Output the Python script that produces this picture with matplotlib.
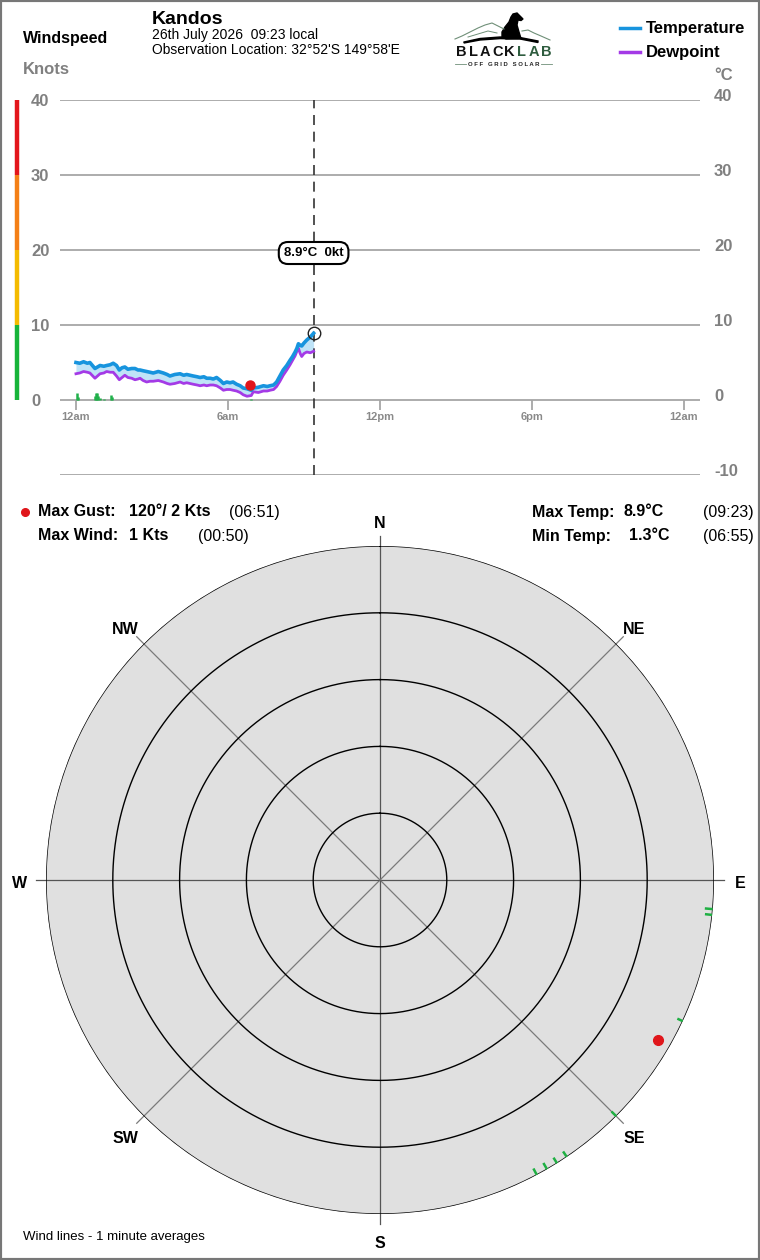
import numpy as np
import matplotlib.pyplot as plt
import matplotlib.transforms as mtransforms
from matplotlib.lines import Line2D
from matplotlib.patches import Rectangle, Polygon

plt.rcParams['font.family'] = ['Liberation Sans', 'DejaVu Sans']

# Temperature / dewpoint readings (hours since midnight)
obs_hours = [0.00, 0.15, 0.30, 0.45, 0.55, 0.75, 0.85, 0.95, 1.10, 1.21, 1.35, 1.47, 1.60,
             1.71, 1.82, 1.93, 2.05, 2.20, 2.33, 2.45, 2.53, 2.65, 2.79, 2.92, 3.05, 3.25,
             3.45, 3.60, 3.71, 3.90, 4.11, 4.25, 4.37, 4.50, 4.63, 4.78, 4.90, 5.05, 5.16,
             5.30, 5.42, 5.55, 5.70, 5.82, 5.95, 6.08, 6.20, 6.34, 6.48, 6.60, 6.75, 6.92,
             7.00, 7.20, 7.40, 7.55, 7.66, 7.80, 7.92, 8.05, 8.18, 8.32, 8.45, 8.55, 8.65,
             8.72, 8.78, 8.85, 8.91, 9.00, 9.11, 9.25, 9.38]
temp_c = [5.0, 4.9, 5.1, 4.9, 5.0, 4.2, 4.4, 4.6, 4.5, 4.6, 4.7, 4.9, 4.6,
          4.0, 4.3, 4.4, 4.1, 4.2, 4.2, 4.0, 4.0, 3.9, 3.8, 3.7, 3.6, 3.8,
          3.6, 3.4, 3.2, 3.4, 3.5, 3.3, 3.4, 3.3, 3.2, 3.1, 3.0, 3.1, 2.9,
          2.9, 2.8, 3.0, 2.6, 2.2, 2.4, 2.3, 2.4, 2.1, 1.9, 1.6, 1.5, 1.3,
          1.6, 1.7, 1.9, 1.8, 1.9, 2.0, 2.4, 3.2, 4.0, 4.6, 5.3, 5.8, 6.4,
          6.9, 7.5, 7.3, 7.2, 7.6, 8.0, 8.4, 8.9]
dewpoint_c = [3.5, 3.6, 3.8, 3.7, 3.6, 2.9, 3.2, 3.5, 3.6, 3.8, 3.7, 3.7, 3.2,
              2.7, 3.0, 3.3, 3.0, 2.9, 2.7, 2.8, 2.9, 2.6, 2.4, 2.5, 2.5, 2.6,
              2.4, 2.2, 2.1, 2.2, 2.4, 2.2, 2.3, 2.2, 2.1, 2.0, 1.9, 2.0, 1.9,
              2.0, 2.0, 1.9, 1.6, 1.3, 1.4, 1.4, 1.3, 1.2, 1.0, 0.7, 0.5, 0.6,
              1.1, 1.0, 1.2, 1.2, 1.3, 1.4, 1.8, 2.5, 3.3, 4.0, 4.7, 5.3, 5.9,
              6.5, 6.9, 6.2, 5.8, 6.2, 6.4, 6.3, 6.5]

# 1 minute wind averages (knots)
wind_hours = [0.03, 0.07, 0.75, 0.80, 0.83, 0.87, 0.95, 1.10, 1.38, 1.42, 6.90]
wind_kts = [0.9, 0.4, 0.6, 0.9, 1.0, 0.5, 0.3, 0.2, 0.7, 0.4, 0.2]

gust_hour = 6.85
gust_kts = 2
gust_dir = 120

now_hour = 9.38
now_temp = 8.9
now_wind = 0

x_ticks = [0, 6, 12, 18, 24]
x_labels = ['12am', '6am', '12pm', '6pm', '12am']
temp_ticks = [-10, 0, 10, 20, 30, 40]
wind_ticks = [0, 10, 20, 30, 40]
band_edges = [0, 10, 20, 30, 40]
band_colors = ['#17b43a', '#f4bb00', '#f47f16', '#e3161b']

# Wind rose
compass = ['N', 'NE', 'E', 'SE', 'S', 'SW', 'W', 'NW']
compass_deg = [0, 45, 90, 135, 180, 225, 270, 315]
ring_kts = [10, 20, 30, 40]
rose_max = 50
rose_dirs = [95, 96, 115, 135, 146, 148, 150, 152]
rose_kts = [1.0, 0.9, 0.7, 0.8, 0.8, 0.8, 0.9, 0.9]

W, H = 760, 1260
fig = plt.figure(figsize=(W / 100, H / 100), dpi=100)


def fx(p):
    return p / W


def fy(p):
    return 1 - p / H


# ---- top chart ----
ax = fig.add_axes([fx(60), fy(475), (700 - 60) / W, (475 - 100) / H])
ax.spines['bottom'].set_position(('data', 0))
ax.set_xlim(-0.63, 24.63)
ax.set_ylim(-10, 40)
for v in temp_ticks:
    ax.axhline(v, color='#a6a6a6', lw=1.3, zorder=1)

ax.fill_between(obs_hours, dewpoint_c, temp_c, color='#bfe3f7', lw=0, zorder=2)
ax.plot(obs_hours, dewpoint_c, color='#a43ae6', lw=2, zorder=3)
ax.plot(obs_hours, temp_c, color='#1794de', lw=2.6, zorder=4)
ax.vlines(wind_hours, 0, wind_kts, color='#20b04a', lw=1.8, zorder=3)
ax.plot(gust_hour, gust_kts, 'o', color='#e0161b', ms=6.5, zorder=5)
ax.axvline(now_hour, color='#333333', lw=1.2, ls=(0, (6, 4)), zorder=2)
ax.plot(now_hour, now_temp, 'o', mfc='none', mec='#222222', ms=9, mew=1, zorder=6)
ax.text(now_hour, 19.6, f'{now_temp}°C  {now_wind}kt', ha='center', va='center',
        fontsize=9.5, weight='bold', zorder=7,
        bbox=dict(boxstyle='round,pad=0.38,rounding_size=0.7', fc='white', ec='black', lw=1.5))

ax.set_xticks(x_ticks)
ax.set_xticklabels(x_labels, fontsize=8, weight='bold', color='#8a8a8a')
ax.tick_params(axis='x', length=7, color='#a6a6a6', width=1.3, pad=2)
for s in ax.spines.values():
    s.set_visible(False)
ax.set_yticks([])
ax.patch.set_alpha(0)

trans = mtransforms.blended_transform_factory(ax.transAxes, ax.transData)
for v in wind_ticks:
    ax.text((31 - 60) / 640, v - 0.2, str(v), transform=trans, ha='left', va='center',
            fontsize=12, weight='bold', color='#808080')
for v in temp_ticks:
    ax.text((714 - 60) / 640, v + 0.5, str(v), transform=trans, ha='left', va='center',
            fontsize=12, weight='bold', color='#808080')
ax.text((714 - 60) / 640, 43.2, '°C', transform=trans, ha='left', va='center',
        fontsize=12, weight='bold', color='#808080')
for i, c in enumerate(band_colors):
    ax.plot([(17 - 60) / 640] * 2, [band_edges[i], band_edges[i + 1]], transform=trans,
            color=c, lw=3.2, clip_on=False, solid_capstyle='butt')

# header
fig.text(fx(23), fy(39), 'Windspeed', fontsize=11.5, weight='bold', va='center')
fig.text(fx(23), fy(70), 'Knots', fontsize=12, weight='bold', color='#808080', va='center')
fig.text(fx(152), fy(19), 'Kandos', fontsize=14, weight='bold', va='center')
fig.text(fx(152), fy(35), '26th July 2026  09:23 local', fontsize=10, va='center')
fig.text(fx(152), fy(50), "Observation Location: 32°52'S 149°58'E", fontsize=10, va='center')

# legend
for yy, col, lab in [(28, '#1794de', 'Temperature'), (52, '#a43ae6', 'Dewpoint')]:
    fig.add_artist(Line2D([fx(620), fx(640)], [fy(yy), fy(yy)], color=col, lw=2.5))
    fig.text(fx(646), fy(yy + 1), lab, fontsize=12, weight='bold', va='center')

# logo
lax = fig.add_axes([fx(450), fy(72), 110 / W, 62 / H])
lax.set_xlim(450, 560)
lax.set_ylim(72, 10)
lax.axis('off')
lax.plot([455, 462, 470, 478, 485, 492, 498, 504], [39, 36, 32, 28, 25, 23, 26, 29],
         color='#6f8f78', lw=0.8)
lax.plot([522, 528, 534, 541, 550], [31, 30, 33, 36, 40], color='#6f8f78', lw=0.8)
lax.plot([468, 478, 488, 497], [37, 34, 31, 33], color='#6f8f78', lw=0.7)
lax.add_patch(Polygon([(464, 42), (480, 38.5), (500, 37), (520, 37.5), (538, 41), (538, 42.5),
                       (520, 39), (500, 38.6), (480, 40), (464, 43)], closed=True, color='black'))
lax.add_patch(Polygon([(506, 39), (502, 37), (502, 32), (505, 27), (509, 22), (511, 17),
                       (513, 14), (517, 13), (520, 16), (523, 19), (521, 20.5), (518, 20),
                       (517, 25), (519, 32), (521, 38.5)], closed=True, color='black'))
for i, ch in enumerate('BLACKLAB'):
    lax.text(461 + i * 12.2, 52.5, ch, ha='center', va='center', fontsize=10.5, weight='bold',
             color='#111111' if i < 5 else '#2e5c3e')
lax.text(503.5, 64, 'O F F   G R I D   S O L A R', ha='center', va='center', fontsize=4.3,
         weight='bold', color='#222222')
lax.plot([455, 466], [64, 64], color='#6f8f78', lw=0.6)
lax.plot([541, 552], [64, 64], color='#6f8f78', lw=0.6)

# stats
stat_font = dict(fontsize=11.5, va='center')
fig.add_artist(Line2D([fx(25)], [fy(512)], marker='o', color='#e0161b', ms=5.5))
fig.text(fx(38), fy(512), 'Max Gust:', weight='bold', **stat_font)
fig.text(fx(129), fy(512), f'{gust_dir}°/ {gust_kts} Kts', weight='bold', **stat_font)
fig.text(fx(229), fy(512), '(06:51)', **stat_font)
fig.text(fx(38), fy(536), 'Max Wind:', weight='bold', **stat_font)
fig.text(fx(129), fy(536), f'{max(wind_kts):.0f} Kts', weight='bold', **stat_font)
fig.text(fx(198), fy(536), '(00:50)', **stat_font)
fig.text(fx(532), fy(512), 'Max Temp:', weight='bold', **stat_font)
fig.text(fx(624), fy(512), f'{max(temp_c)}°C', weight='bold', **stat_font)
fig.text(fx(703), fy(512), '(09:23)', **stat_font)
fig.text(fx(532), fy(536), 'Min Temp:', weight='bold', **stat_font)
fig.text(fx(629), fy(536), f'{min(temp_c)}°C', weight='bold', **stat_font)
fig.text(fx(703), fy(536), '(06:55)', **stat_font)

# ---- wind rose ----
R = 334
pax = fig.add_axes([fx(380 - R), fy(880 + R), 2 * R / W, 2 * R / H], projection='polar')
pax.set_theta_zero_location('N')
pax.set_theta_direction(-1)
pax.set_ylim(0, rose_max)
pax.axis('off')
theta = np.linspace(0, 2 * np.pi, 721)
pax.fill(theta, np.full_like(theta, rose_max), color='#e0e0e0', zorder=0)
for d in compass_deg:
    col = '#555555' if d % 90 == 0 else '#7a7a7a'
    pax.plot([np.radians(d)] * 2, [0, rose_max + 1.5], color=col, lw=0.9, clip_on=False, zorder=1)
for k in ring_kts + [0]:
    pax.plot(theta, np.full_like(theta, rose_max - k), color='black', lw=1, zorder=2)
for d, k in zip(rose_dirs, rose_kts):
    pax.plot([np.radians(d)] * 2, [rose_max, rose_max - k], color='#1fb043', lw=1.8, zorder=3)
pax.plot(np.radians(gust_dir), rose_max - gust_kts, 'o', color='#e0161b', ms=7, zorder=4)
lab_trans = mtransforms.offset_copy(pax.transData, fig=fig, x=0, y=-4, units='dots')
for lab, d in zip(compass, compass_deg):
    pax.text(np.radians(d), rose_max * 360 / R, lab, ha='center', va='center', fontsize=11.5,
             weight='bold', clip_on=False, transform=lab_trans)

fig.text(fx(23), fy(1237), 'Wind lines - 1 minute averages', fontsize=9.5, va='center')

fig.add_artist(Rectangle((0, 0), 1, 1, transform=fig.transFigure, fill=False, ec='#777777', lw=3))

fig.savefig('out.png', dpi=100)
